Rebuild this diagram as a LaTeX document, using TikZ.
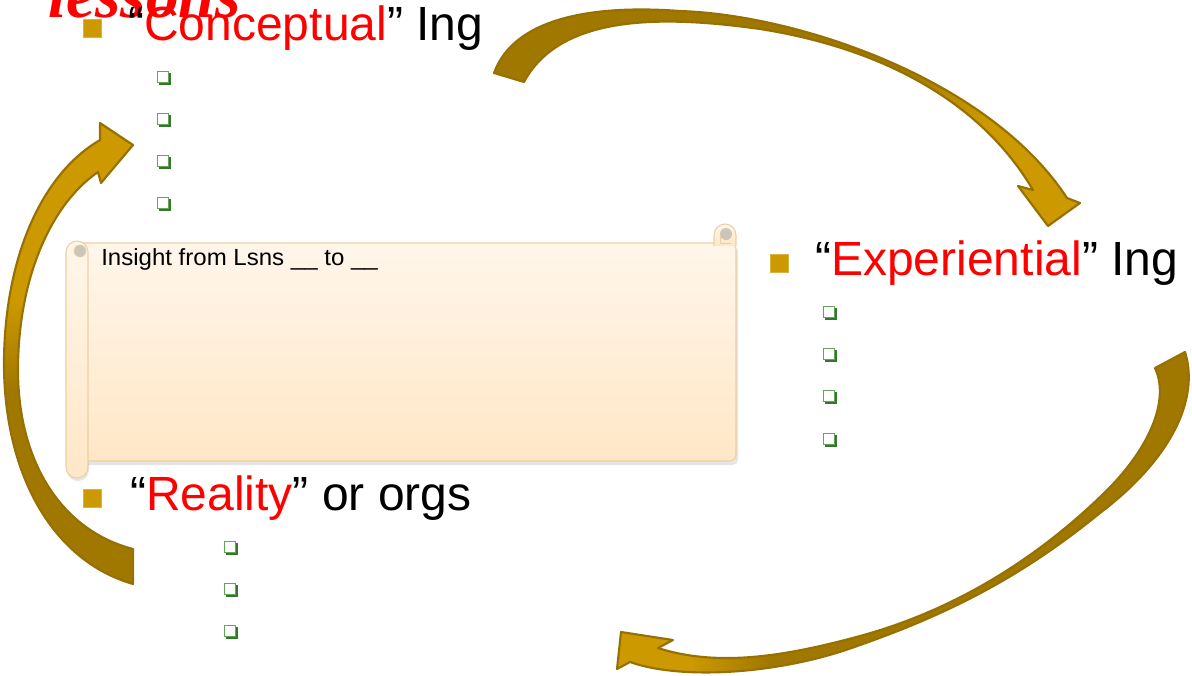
\documentclass[tikz,border=0pt]{standalone}
\usepackage{fontspec}
\setmainfont{Liberation Sans}
\newfontfamily\serifbi{Liberation Serif}
\usetikzlibrary{shadows}

\definecolor{gold}{RGB}{204,153,0}
\definecolor{golddark}{RGB}{160,120,0}
\definecolor{goldline}{RGB}{150,112,0}
\definecolor{boxgreen}{RGB}{100,165,90}
\definecolor{boxshadow}{RGB}{50,120,40}
\definecolor{scrolltop}{RGB}{255,246,234}
\definecolor{scrollbot}{RGB}{255,231,198}
\definecolor{scrollline}{RGB}{236,208,165}
\definecolor{curlgray}{RGB}{205,196,186}
\definecolor{hotred}{RGB}{255,0,0}

\tikzset{
  headtext/.style={anchor=base west, inner sep=0pt, font=\fontsize{36}{43}\selectfont},
  goldbullet/.style={fill=gold, draw=gold!75!white, line width=0.4pt,
    minimum size=13.2pt, inner sep=0pt},
  chk/.style={draw=boxgreen, fill=white, line width=0.6pt, minimum size=8.6pt,
    inner sep=0pt, copy shadow={shadow xshift=1.4pt, shadow yshift=-1.4pt,
    draw=boxshadow, fill=boxshadow}},
  arrowline/.style={draw=goldline, line width=1.6pt, line join=round},
  scrollpart/.style={top color=scrolltop, bottom color=scrollbot,
    draw=scrollline, line width=0.8pt},
}

% outlines of the three curved block arrows
\def\arrowTop{(494,73) .. controls (515,15) and (600,5) .. (680,11)
  .. controls (800,15) and (990,80) .. (1067,198) -- (1080,203) -- (1048,226)
  -- (1018,186) -- (1033,190) .. controls (980,100) and (880,48) .. (760,29)
  .. controls (660,15) and (560,15) .. (524,82) -- cycle}
\def\arrowRight{(1185,352) .. controls (1200,400) and (1170,460) .. (1100,513)
  .. controls (1030,570) and (960,610) .. (860,645)
  .. controls (780,675) and (680,680) .. (630,662) -- (617,669) -- (621,632)
  -- (673,640) -- (658,648) .. controls (720,668) and (790,655) .. (860,636)
  .. controls (970,606) and (1050,545) .. (1100,497)
  .. controls (1150,450) and (1170,400) .. (1155,368) -- cycle}
\def\arrowLeft{(133,584) .. controls (50,560) and (3,470) .. (4,360)
  .. controls (5,260) and (40,175) .. (100,140) -- (100,123) -- (133,145)
  -- (101,183) -- (98,172) .. controls (50,205) and (18,280) .. (18,370)
  .. controls (18,460) and (60,530) .. (133,549) -- cycle}

\begin{document}
\begin{tikzpicture}[x=0.75pt, y=-0.75pt]
\useasboundingbox (0,0) rectangle (1192,675);

% ---- scroll ----
% soft drop shadow
\fill[black, opacity=0.10, rounded corners=4] (71,246) rectangle (738,465);
\fill[black, opacity=0.10] (67,255) arc[start angle=180, end angle=360, radius=11]
  -- (89,470) arc[start angle=0, end angle=180, radius=11] -- cycle;
% body
\shade[scrollpart, rounded corners=5] (70,243) rectangle (736,461);
% top right curl
\shade[scrollpart] (714,246) -- (714,235) arc[start angle=180, end angle=360, radius=11]
  -- (736,246);
\fill[curlgray] (726,234) circle[radius=6];
\draw[scrollline, line width=0.6pt] (720,236) -- (720,243) -- (731,243);
% left roll
\shade[scrollpart] (66,252) arc[start angle=180, end angle=360, radius=11]
  -- (88,467) arc[start angle=0, end angle=180, radius=11] -- cycle;
\fill[curlgray, draw=scrollline, line width=0.6pt] (80,251) circle[radius=6];

\node[anchor=base west, inner sep=0pt, font=\fontsize{17.5}{21}\selectfont]
  (insight) at (101,265) {\scalebox{1.03}[1]{Insight from Lsns \_\_ to \_\_}};

% ---- curved arrows ----
\begin{scope}
  \clip \arrowTop;
  \fill[golddark] (480,0) rectangle (1100,240);
  \shade[left color=golddark, right color=gold] (900,0) rectangle (985,240);
  \fill[gold] (985,0) rectangle (1100,240);
\end{scope}
\draw[arrowline] \arrowTop;

\begin{scope}
  \clip \arrowRight;
  \fill[golddark] (600,340) rectangle (1200,675);
  \shade[left color=gold, right color=golddark] (690,340) rectangle (770,675);
  \fill[gold] (600,340) rectangle (690,675);
\end{scope}
\draw[arrowline] \arrowRight;

\begin{scope}
  \clip \arrowLeft;
  \fill[golddark] (0,100) rectangle (140,600);
  \shade[top color=gold, bottom color=golddark] (0,300) rectangle (140,390);
  \fill[gold] (0,100) rectangle (140,300);
\end{scope}
\draw[arrowline] \arrowLeft;

% ---- headings ----
\node[anchor=base west, inner sep=0pt, text=hotred,
  font=\serifbi\bfseries\itshape\fontsize{49}{52}\selectfont] (lessons) at (48,17) {lessons};

\node[goldbullet] (b1) at (92.5,28.5) {};
\node[headtext] (concept) at (128,40) {“\textcolor{hotred}{Conceptual}” Ing};

\node[goldbullet] (b2) at (779,263.5) {};
\node[headtext] (exper) at (815,275) {“\textcolor{hotred}{Experiential}” Ing};

\node[goldbullet] (b3) at (92.5,498.5) {};
\node[headtext] (reality) at (130,510) {“\textcolor{hotred}{Reality}” or orgs};

% ---- check-box sub bullets ----
\node[chk] (c1) at (163,77) {};
\node[chk] (c2) at (163,119) {};
\node[chk] (c3) at (163,161) {};
\node[chk] (c4) at (163,203) {};

\node[chk] (e1) at (829,312) {};
\node[chk] (e2) at (829,354) {};
\node[chk] (e3) at (829,396) {};
\node[chk] (e4) at (829,439) {};

\node[chk] (r1) at (230,547) {};
\node[chk] (r2) at (230,589) {};
\node[chk] (r3) at (230,631) {};
\end{tikzpicture}
\end{document}
